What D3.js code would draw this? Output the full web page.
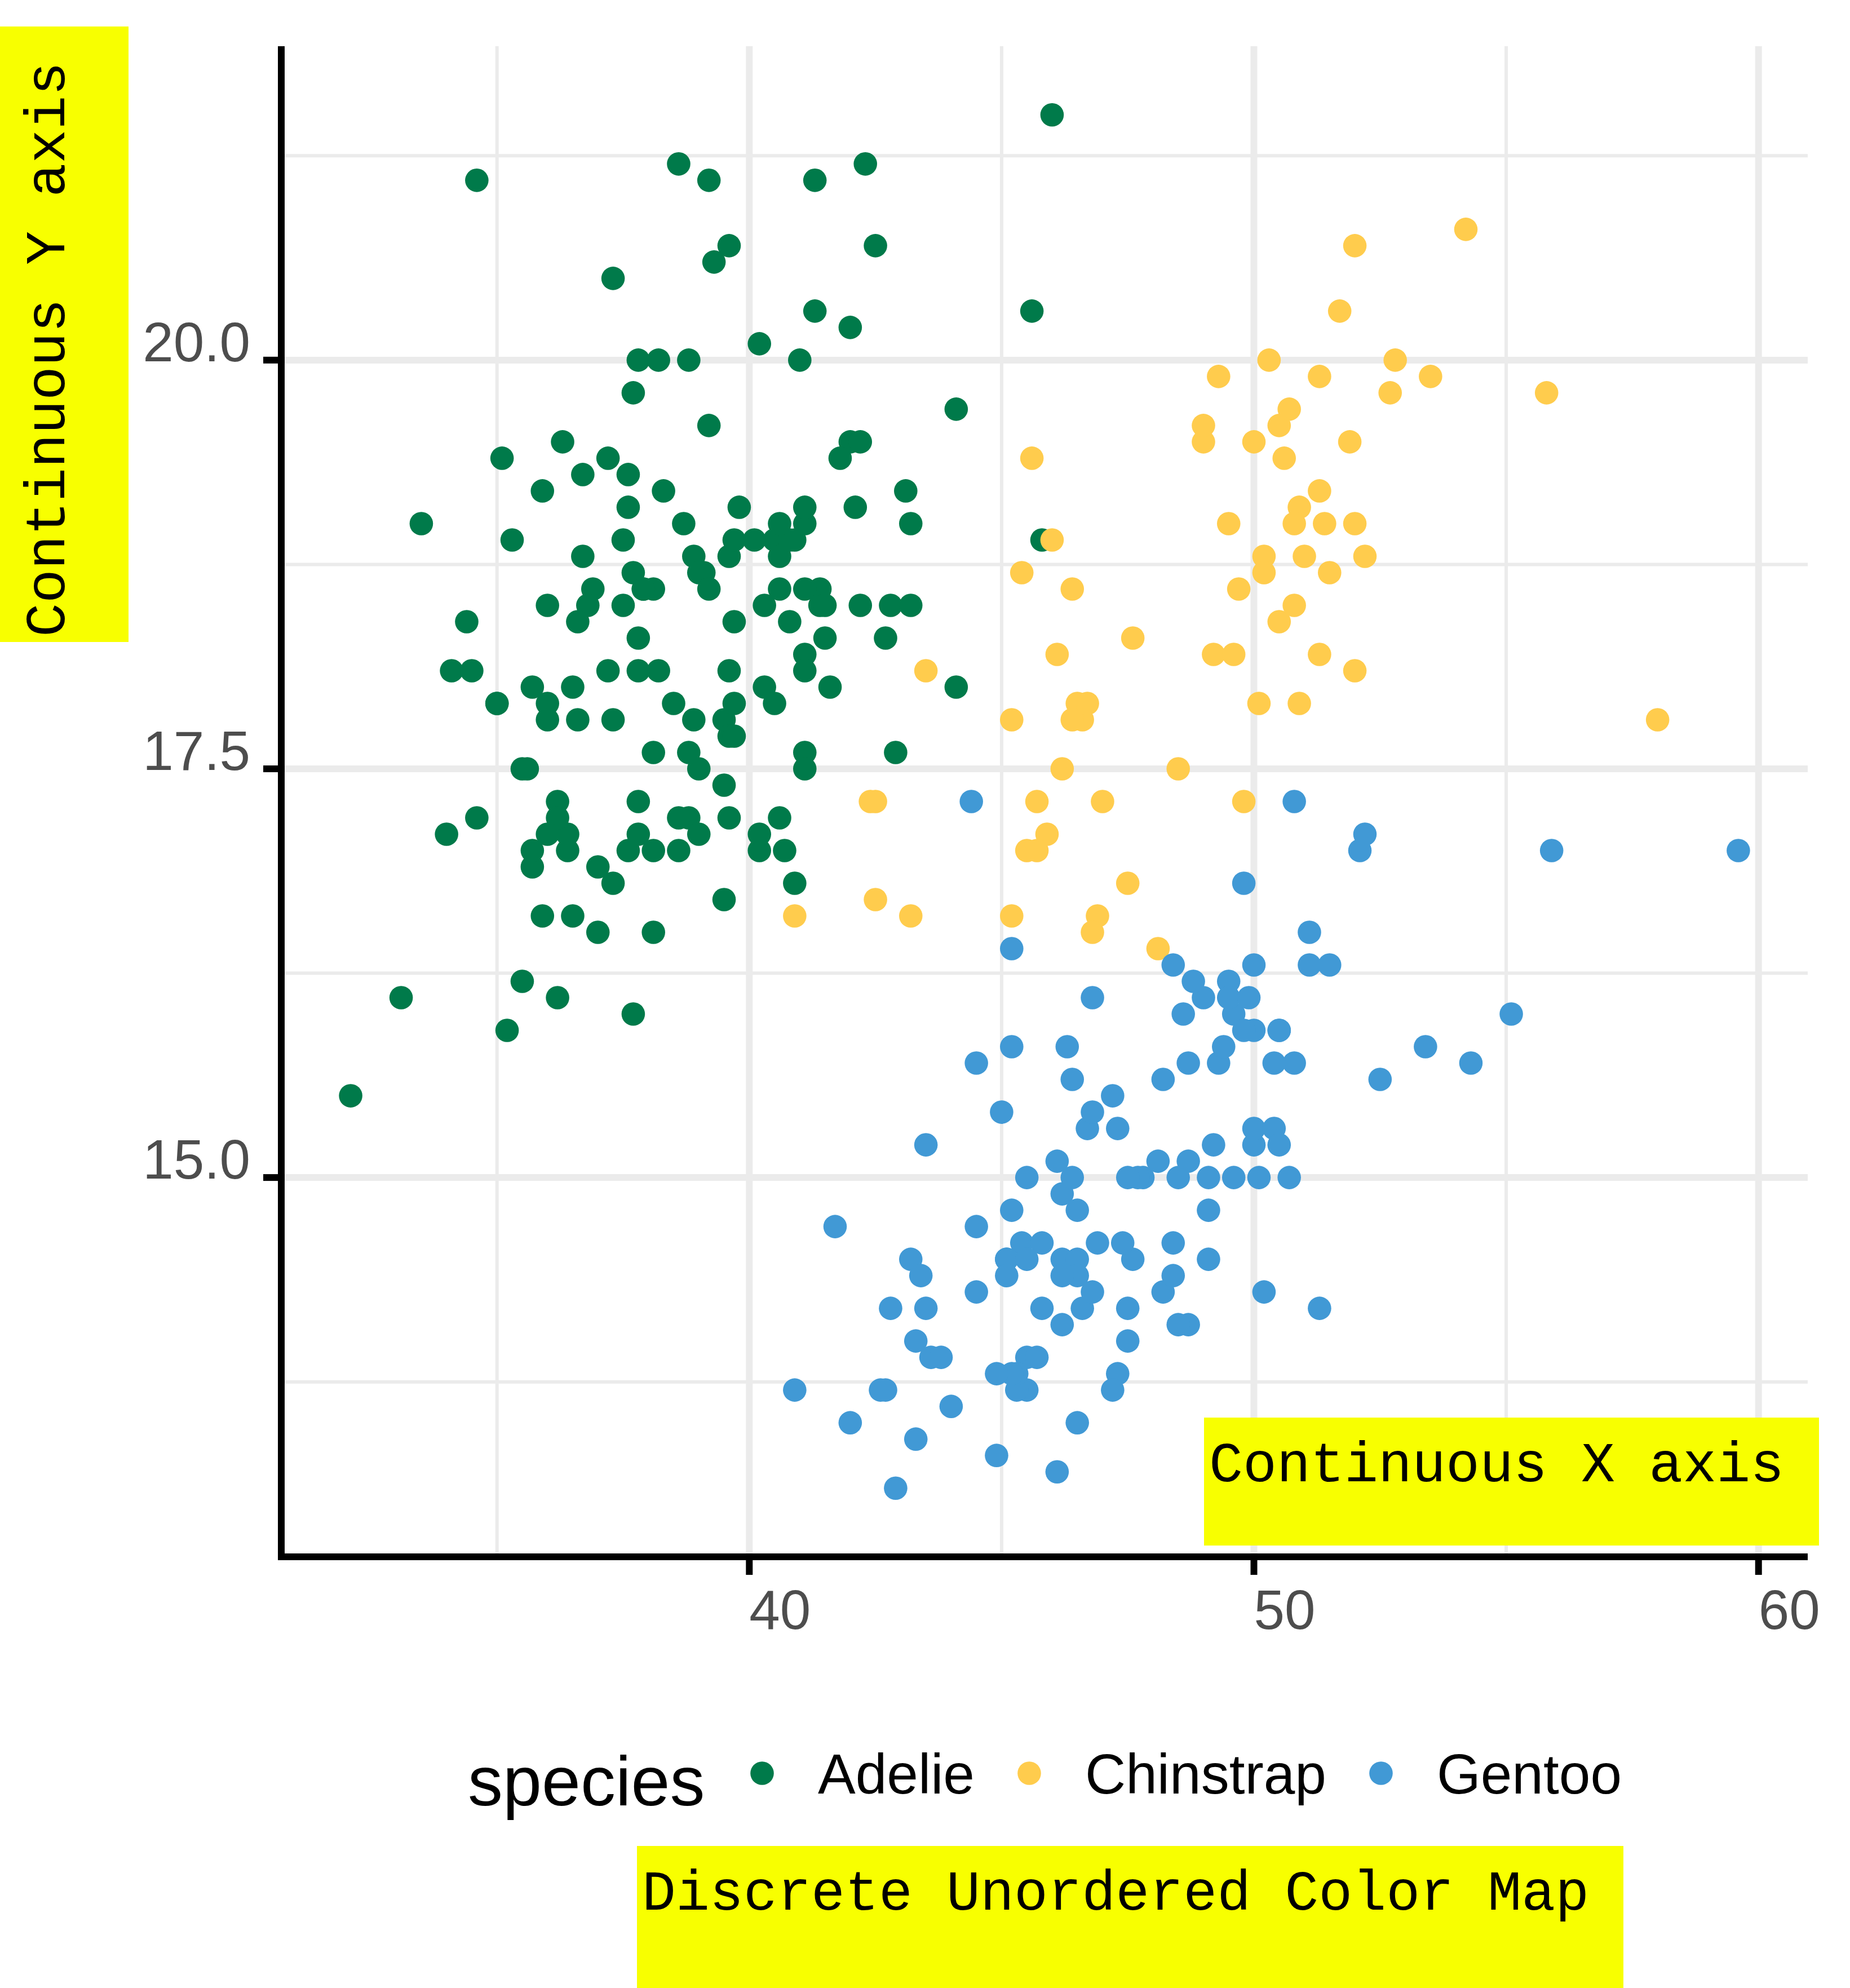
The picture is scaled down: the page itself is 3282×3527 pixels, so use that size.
<!DOCTYPE html>
<html>
<head>
<meta charset="utf-8">
<script src="https://cdn.jsdelivr.net/npm/d3@7"></script>
<style>
  body { margin: 0; background: #ffffff; }
  svg { display: block; }
</style>
</head>
<body>
<svg id="chart"></svg>
<script>
// penguins: bill length (x) vs bill depth (y)
const speciesNames = ["Adelie", "Chinstrap", "Gentoo"];
const speciesColors = ["#007A4A", "#FFCC4D", "#4199D5"];

const adelieLength = [39.1,39.5,40.3,36.7,39.3,38.9,39.2,34.1,42.0,37.8,37.8,41.1,38.6,34.6,36.6,38.7,42.5,34.4,46.0,37.8,
  37.7,35.9,38.2,38.8,35.3,40.6,40.5,37.9,40.5,39.5,37.2,39.5,40.9,36.4,39.2,38.8,42.2,37.6,39.8,36.5,
  40.8,36.0,44.1,37.0,39.6,41.1,37.5,36.0,42.3,39.6,40.1,35.0,42.0,34.5,41.4,39.0,40.6,36.5,37.6,35.7,
  41.3,37.6,41.1,36.4,41.6,35.5,41.1,35.9,41.8,33.5,39.7,39.6,45.8,35.5,42.8,40.9,37.2,36.2,42.1,34.6,
  42.9,36.7,35.1,37.3,41.3,36.3,36.9,38.3,38.9,35.7,41.1,34.0,39.6,36.2,40.8,38.1,40.3,33.1,43.2,35.0,
  41.0,37.7,37.8,37.9,39.7,38.6,38.2,38.1,43.2,38.1,45.6,39.7,42.2,39.6,42.7,38.6,37.3,35.7,41.1,36.2,
  37.7,40.2,41.4,35.2,40.6,38.8,41.5,39.0,44.1,38.5,43.1,36.8,37.5,38.1,41.1,35.6,40.2,37.0,39.7,40.2,
  40.6,32.1,40.7,37.3,39.0,39.2,36.6,36.0,37.8,36.0,41.5];
const adelieDepth = [18.7,17.4,18.0,19.3,20.6,17.8,19.6,18.1,20.2,17.1,17.3,17.6,21.2,21.1,17.8,19.0,20.7,18.4,21.5,18.3,
  18.7,19.2,18.1,17.2,18.9,18.6,17.9,18.6,18.9,16.7,18.1,17.8,18.9,17.0,21.1,20.0,18.5,19.3,19.1,18.0,
  18.4,18.5,19.7,16.9,18.8,19.0,18.9,17.9,21.2,17.7,18.9,17.9,19.5,18.1,18.6,17.5,18.8,16.6,19.1,16.9,
  21.1,17.0,18.2,17.1,18.0,16.2,19.1,16.6,19.4,19.0,18.4,17.2,18.9,17.5,18.5,16.8,19.4,16.1,19.1,17.2,
  17.6,18.8,19.4,17.8,20.3,19.5,18.6,19.2,18.8,18.0,18.1,17.1,18.1,17.3,18.9,18.6,18.5,16.1,18.5,17.9,
  20.0,16.0,20.0,18.6,18.9,17.2,20.0,17.0,19.0,16.5,20.3,17.7,19.5,20.7,18.3,17.0,20.5,17.0,18.6,17.2,
  19.8,17.0,18.5,15.9,19.0,17.6,18.3,17.1,18.0,17.9,19.2,18.5,18.5,17.6,17.5,17.5,20.1,16.5,17.9,17.1,
  17.2,15.5,17.0,16.8,18.7,18.6,18.4,17.8,18.1,17.1,18.5];

const chinstrapLength = [46.5,50.0,51.3,45.4,52.7,45.2,46.1,51.3,46.0,51.3,46.6,51.7,47.0,52.0,45.9,50.5,50.3,58.0,46.4,49.2,
  42.4,48.5,43.2,50.6,46.7,52.0,50.5,49.5,46.4,52.8,40.9,54.2,42.5,51.0,49.7,47.5,47.6,52.0,46.9,53.5,
  49.0,46.2,50.9,45.5,50.9,50.8,50.1,49.0,51.5,49.8,48.1,51.4,45.7,50.7,42.5,52.2,45.2,49.3,50.2,45.6,
  51.9,46.8,45.7,55.8,43.5,49.6,50.8,50.2];
const chinstrapDepth = [17.9,19.5,19.2,18.7,19.8,17.8,18.2,18.2,18.9,19.9,17.8,20.3,17.3,18.1,17.1,19.6,20.0,17.8,18.6,18.2,
  17.3,17.5,16.6,19.4,17.9,19.0,18.4,19.0,17.8,20.0,16.6,20.8,16.7,18.8,18.6,16.8,18.3,20.7,16.6,19.9,
  19.5,17.5,19.1,17.0,17.9,18.5,17.9,19.6,18.7,17.3,16.4,19.0,17.3,19.7,17.3,18.8,16.6,19.9,18.8,19.4,
  19.5,16.5,17.0,19.8,18.1,18.2,19.0,18.7];

const gentooLength = [46.1,50.0,48.7,50.0,47.6,46.5,45.4,46.7,43.3,46.8,40.9,49.0,45.5,48.4,45.8,49.3,42.0,49.2,46.2,48.7,
  50.2,45.1,46.5,46.3,42.9,46.1,44.5,47.8,48.2,50.0,47.3,42.8,45.1,59.6,49.1,48.4,42.6,44.4,44.0,48.7,
  42.7,49.6,45.3,49.6,50.5,43.6,45.5,50.5,44.9,45.2,46.6,48.5,45.1,50.1,46.5,45.0,43.8,45.5,43.2,50.4,
  45.3,46.2,45.7,54.3,45.8,49.8,46.2,49.5,43.5,50.7,47.7,46.4,48.2,46.5,46.4,48.6,47.5,51.1,45.2,45.2,
  49.1,52.5,47.4,50.0,44.9,50.8,43.4,51.3,47.5,52.1,47.5,52.2,45.5,49.5,44.5,50.8,49.4,46.9,48.4,51.1,
  48.5,55.9,47.2,49.1,47.3,46.8,41.7,53.4,43.3,48.1,50.5,49.8,43.5,51.5,46.2,55.1,44.5,48.8,47.2,46.8,
  50.4,45.2,49.9];
const gentooDepth = [13.2,16.3,14.1,15.2,14.5,13.5,14.6,15.3,13.4,15.4,13.7,16.1,13.7,14.6,14.6,15.7,13.5,15.2,14.5,15.1,
  14.3,14.5,14.5,15.8,13.1,15.1,14.3,15.0,14.3,15.3,15.3,14.2,14.5,17.0,14.8,16.3,13.7,17.3,13.6,15.7,
  13.7,16.0,13.7,15.0,15.9,13.9,13.9,15.9,13.3,15.8,14.2,14.1,14.4,15.0,14.4,15.4,13.9,15.0,14.5,15.3,
  13.8,14.9,13.9,15.7,14.2,16.8,14.4,16.2,14.2,15.0,15.0,15.6,15.6,14.8,15.0,16.0,14.2,16.3,13.8,16.4,
  14.5,15.6,14.6,15.9,13.8,17.3,14.4,14.2,14.0,17.0,15.0,17.1,14.5,16.1,14.7,15.7,15.8,14.6,14.4,16.5,
  15.0,17.0,15.5,15.0,13.8,16.1,14.7,15.8,14.0,15.1,15.2,15.9,15.2,16.3,14.1,16.0,15.7,16.2,13.7,14.3,
  15.7,14.8,16.1];

const xTicks = [40, 50, 60];
const xTickLabels = ["40", "50", "60"];
const xMinorTicks = [35, 45, 55];
const yTicks = [15.0, 17.5, 20.0];
const yTickLabels = ["15.0", "17.5", "20.0"];
const yMinorTicks = [13.75, 16.25, 18.75, 21.25];

const yAxisNote = "Continuous Y axis";
const xAxisNote = "Continuous X axis";
const colorNote = "Discrete Unordered Color Map";
const legendTitle = "species";

// ---- layout
const width = 3282, height = 3527;
const panel = {left: 499, right: 3207, top: 82, bottom: 2762};
const sansFont = "'Liberation Sans', Arial, Helvetica, sans-serif";
const monoFont = "'Liberation Mono', 'DejaVu Sans Mono', monospace";
const noteFill = "#F8FF00";

const svg = d3.select("#chart")
    .attr("width", width)
    .attr("height", height)
    .attr("viewBox", [0, 0, width, height]);

svg.append("rect").attr("width", width).attr("height", height).attr("fill", "#ffffff");

const seriesLength = [adelieLength, chinstrapLength, gentooLength];
const seriesDepth = [adelieDepth, chinstrapDepth, gentooDepth];

const points = [];
speciesNames.forEach(function (name, s) {
    seriesLength[s].forEach(function (v, i) {
        points.push({species: name, color: speciesColors[s], x: v, y: seriesDepth[s][i]});
    });
});

// ggplot-like 5% expansion of the data range
function expand(ext) {
    const pad = (ext[1] - ext[0]) * 0.05;
    return [ext[0] - pad, ext[1] + pad];
}

const x = d3.scaleLinear()
    .domain(expand(d3.extent(points, d => d.x)))
    .range([panel.left, panel.right]);
const y = d3.scaleLinear()
    .domain(expand(d3.extent(points, d => d.y)))
    .range([panel.bottom, panel.top]);

// ---- grid
const grid = svg.append("g").attr("stroke", "#EBEBEB").attr("fill", "none");

grid.selectAll("line.xminor").data(xMinorTicks).enter().append("line")
    .attr("x1", d => x(d)).attr("x2", d => x(d))
    .attr("y1", panel.top).attr("y2", panel.bottom)
    .attr("stroke-width", 6);
grid.selectAll("line.yminor").data(yMinorTicks).enter().append("line")
    .attr("y1", d => y(d)).attr("y2", d => y(d))
    .attr("x1", panel.left).attr("x2", panel.right)
    .attr("stroke-width", 6);
grid.selectAll("line.xmajor").data(xTicks).enter().append("line")
    .attr("x1", d => x(d)).attr("x2", d => x(d))
    .attr("y1", panel.top).attr("y2", panel.bottom)
    .attr("stroke-width", 12);
grid.selectAll("line.ymajor").data(yTicks).enter().append("line")
    .attr("y1", d => y(d)).attr("y2", d => y(d))
    .attr("x1", panel.left).attr("x2", panel.right)
    .attr("stroke-width", 12);

// ---- points
svg.append("g")
    .selectAll("circle")
    .data(points)
    .enter()
    .append("circle")
    .attr("cx", d => x(d.x))
    .attr("cy", d => y(d.y))
    .attr("r", 20.8)
    .attr("fill", d => d.color);

// ---- axes
const axes = svg.append("g").attr("stroke", "#000000").attr("stroke-width", 12);
axes.append("line").attr("x1", panel.left).attr("x2", panel.left)
    .attr("y1", panel.top).attr("y2", panel.bottom + 6);
axes.append("line").attr("x1", panel.left - 6).attr("x2", panel.right)
    .attr("y1", panel.bottom).attr("y2", panel.bottom);

axes.selectAll("line.xtick").data(xTicks).enter().append("line")
    .attr("x1", d => x(d)).attr("x2", d => x(d))
    .attr("y1", panel.bottom).attr("y2", panel.bottom + 32);
axes.selectAll("line.ytick").data(yTicks).enter().append("line")
    .attr("y1", d => y(d)).attr("y2", d => y(d))
    .attr("x1", panel.left - 32).attr("x2", panel.left);

svg.append("g")
    .selectAll("text")
    .data(xTicks)
    .enter()
    .append("text")
    .attr("x", d => x(d))
    .attr("y", panel.bottom + 128)
    .attr("text-anchor", "start")
    .style("font-family", sansFont)
    .style("font-size", "98px")
    .attr("fill", "#4D4D4D")
    .text((d, i) => xTickLabels[i]);

svg.append("g")
    .selectAll("text")
    .data(yTicks)
    .enter()
    .append("text")
    .attr("x", panel.left - 55)
    .attr("y", d => y(d) + 2)
    .attr("text-anchor", "end")
    .style("font-family", sansFont)
    .style("font-size", "98px")
    .attr("fill", "#4D4D4D")
    .text((d, i) => yTickLabels[i]);

// ---- legend
const legend = svg.append("g");
legend.append("text")
    .attr("x", 830)
    .attr("y", 3203)
    .style("font-family", sansFont)
    .style("font-size", "124px")
    .attr("fill", "#000000")
    .text(legendTitle);

let keyX = 1352;
speciesNames.forEach(function (name, i) {
    legend.append("circle")
        .attr("cx", keyX)
        .attr("cy", 3146)
        .attr("r", 20.8)
        .attr("fill", speciesColors[i]);
    const label = legend.append("text")
        .attr("x", keyX + 99)
        .attr("y", 3182)
        .style("font-family", sansFont)
        .style("font-size", "100px")
        .attr("fill", "#000000")
        .text(name);
    keyX = keyX + 99 + label.node().getComputedTextLength() + 97;
});

// ---- yellow annotation boxes
function noteBox(bx, by, bw, bh) {
    svg.append("rect")
        .attr("x", bx).attr("y", by)
        .attr("width", bw).attr("height", bh)
        .attr("fill", noteFill);
}

noteBox(0, 47, 228, 1092);
svg.append("text")
    .attr("transform", "translate(114,1130) rotate(-90)")
    .style("font-family", monoFont)
    .style("font-size", "100px")
    .attr("fill", "#000000")
    .text(yAxisNote);

noteBox(2136, 2515, 1091, 227);
svg.append("text")
    .attr("x", 2145)
    .attr("y", 2628)
    .style("font-family", monoFont)
    .style("font-size", "100px")
    .attr("fill", "#000000")
    .text(xAxisNote);

noteBox(1130, 3275, 1750, 252);
svg.append("text")
    .attr("x", 1139)
    .attr("y", 3388)
    .style("font-family", monoFont)
    .style("font-size", "100px")
    .attr("fill", "#000000")
    .text(colorNote);
</script>
</body>
</html>
